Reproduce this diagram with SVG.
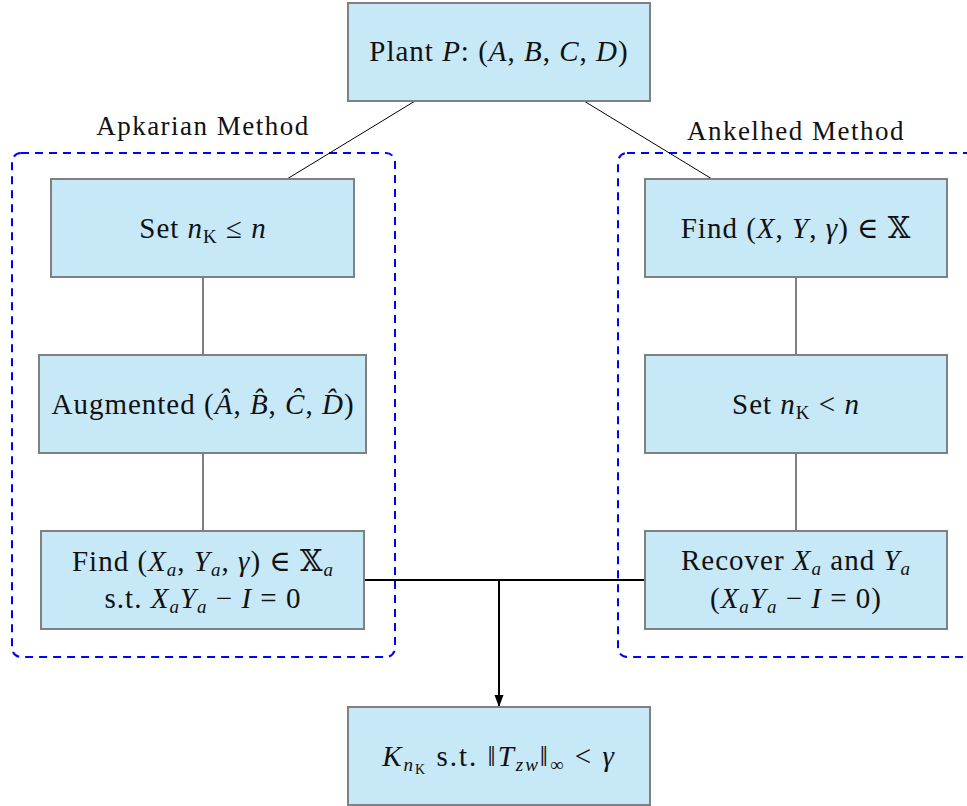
<svg xmlns="http://www.w3.org/2000/svg" width="967" height="806" viewBox="0 0 967 806">
<defs>
<style>
.box{fill:#c6e8f7;stroke:#808080;stroke-width:2}
.grp{fill:none;stroke:#0000ff;stroke-width:2;stroke-dasharray:8,6}
.t{font-family:"Liberation Serif","DejaVu Serif",serif;font-size:29px;letter-spacing:1px;fill:#111;text-anchor:middle}
.lbl{font-family:"Liberation Serif","DejaVu Serif",serif;font-size:27px;letter-spacing:1.5px;fill:#111;text-anchor:middle}
.i{font-style:italic}
.s{font-size:19px}
.thin{stroke:#000;stroke-width:1;fill:none}
.thick{stroke:#000;stroke-width:2;fill:none}
</style>
<marker id="arr" markerWidth="12" markerHeight="12" refX="11" refY="6" orient="auto" markerUnits="userSpaceOnUse">
<path d="M0,1.5 L12,6 L0,10.5 Z" fill="#000"/>
</marker>
</defs>
<rect width="967" height="806" fill="#fff"/>

<g id="group-apkarian">
<rect class="grp" x="12" y="153" width="383" height="504" rx="9"/>
<text class="lbl" x="203" y="135">Apkarian Method</text>
</g>
<g id="group-ankelhed">
<rect class="grp" x="618" y="153" width="370" height="504" rx="9"/>
<text class="lbl" x="796" y="140">Ankelhed Method</text>
</g>

<g id="connectors">
<line class="thin" x1="415" y1="101" x2="287" y2="179"/>
<line class="thin" x1="584" y1="101" x2="712" y2="179"/>
<line class="thin" x1="203" y1="277" x2="203" y2="355"/>
<line class="thin" x1="203" y1="453" x2="203" y2="531"/>
<line class="thin" x1="796" y1="277" x2="796" y2="355"/>
<line class="thin" x1="796" y1="453" x2="796" y2="531"/>
<line class="thick" x1="364" y1="580" x2="645" y2="580"/>
<line class="thick" x1="499" y1="580" x2="499" y2="706" marker-end="url(#arr)"/>
</g>

<g id="plant">
<rect class="box" x="348" y="3" width="302" height="98"/>
<text class="t" x="499" y="61">Plant <tspan class="i">P</tspan>: (<tspan class="i">A</tspan>, <tspan class="i">B</tspan>, <tspan class="i">C</tspan>, <tspan class="i">D</tspan>)</text>
</g>

<g id="set-nk-le">
<rect class="box" x="51" y="179" width="303" height="98"/>
<text class="t" x="203" y="238">Set <tspan class="i">n</tspan><tspan class="s" dy="5">K</tspan><tspan dy="-5"> ≤ </tspan><tspan class="i">n</tspan></text>
</g>

<g id="augmented">
<rect class="box" x="39" y="355" width="327" height="98"/>
<text class="t" x="203" y="414">Augmented (<tspan class="i">Â</tspan>, <tspan class="i">B̂</tspan>, <tspan class="i">Ĉ</tspan>, <tspan class="i">D̂</tspan>)</text>
</g>

<g id="find-xa">
<rect class="box" x="41" y="531" width="323" height="98"/>
<text class="t" x="203" y="571">Find (<tspan class="i">X</tspan><tspan class="s i" dy="5">a</tspan><tspan dy="-5">, </tspan><tspan class="i">Y</tspan><tspan class="s i" dy="5">a</tspan><tspan dy="-5">, </tspan><tspan class="i">γ</tspan>) ∈ 𝕏<tspan class="s i" dy="5">a</tspan></text>
<text class="t" x="203" y="608">s.t. <tspan class="i">X</tspan><tspan class="s i" dy="5">a</tspan><tspan class="i" dy="-5">Y</tspan><tspan class="s i" dy="5">a</tspan><tspan dy="-5"> − </tspan><tspan class="i">I</tspan> = 0</text>
</g>

<g id="find-xy">
<rect class="box" x="645" y="179" width="302" height="98"/>
<text class="t" x="796" y="238">Find (<tspan class="i">X</tspan>, <tspan class="i">Y</tspan>, <tspan class="i">γ</tspan>) ∈ 𝕏</text>
</g>

<g id="set-nk-lt">
<rect class="box" x="645" y="355" width="302" height="98"/>
<text class="t" x="796" y="414">Set <tspan class="i">n</tspan><tspan class="s" dy="5">K</tspan><tspan dy="-5"> &lt; </tspan><tspan class="i">n</tspan></text>
</g>

<g id="recover">
<rect class="box" x="645" y="531" width="302" height="98"/>
<text class="t" x="796" y="570">Recover <tspan class="i">X</tspan><tspan class="s i" dy="5">a</tspan><tspan dy="-5"> and </tspan><tspan class="i">Y</tspan><tspan class="s i" dy="5">a</tspan></text>
<text class="t" x="796" y="608">(<tspan class="i">X</tspan><tspan class="s i" dy="5">a</tspan><tspan class="i" dy="-5">Y</tspan><tspan class="s i" dy="5">a</tspan><tspan dy="-5"> − </tspan><tspan class="i">I</tspan> = 0)</text>
</g>

<g id="controller">
<rect class="box" x="348" y="707" width="302" height="98"/>
<text class="t" x="499" y="766" style="letter-spacing:2px"><tspan class="i">K</tspan><tspan class="s i" dy="5">n</tspan><tspan style="font-size:14px" dy="3">K</tspan><tspan dy="-8">  s.t.  ‖</tspan><tspan class="i">T</tspan><tspan class="s i" dy="5">zw</tspan><tspan dy="-5">‖</tspan><tspan class="s" dy="5">∞</tspan><tspan dy="-5">  &lt;  </tspan><tspan class="i">γ</tspan></text>
</g>
</svg>
